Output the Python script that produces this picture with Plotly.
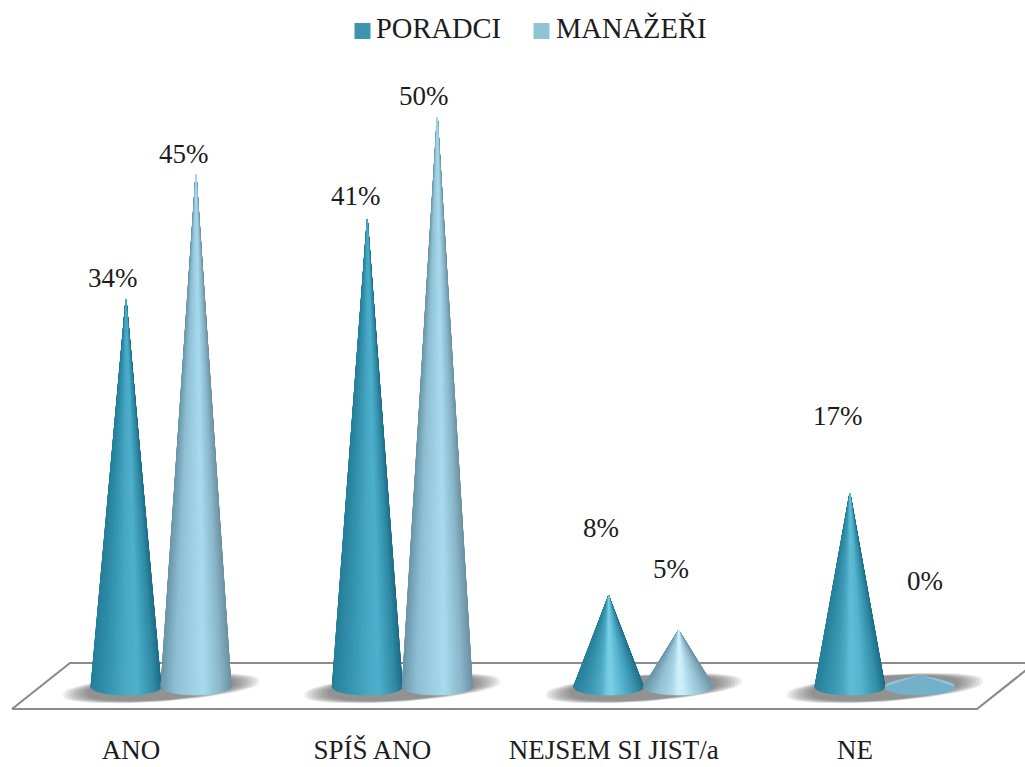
import math
import plotly.graph_objects as go

# Survey answers and the share of each group, in percent
categories = ["ANO", "SPÍŠ ANO", "NEJSEM SI JIST/a", "NE"]
poradci = [34, 41, 8, 17]
manazeri = [45, 50, 5, 0]
series_names = ["PORADCI", "MANAŽEŘI"]

# Label nudges in pixels, (right, up) from each cone's tip
poradci_label_offset = [(-13, 21), (-11, 24), (-8, 68), (-12, 77)]
manazeri_label_offset = [(-12, 20), (-13, 21), (-8, 61), (5, 106)]

WIDTH, HEIGHT = 1025, 767
PX_PER_CAT = 241.3
PX_PER_PCT = 11.4
FIRST_CAT_PX = 161
ZERO_PX = 687
PLOT_BOTTOM_PX = 731

CONE_DX = 35 / PX_PER_CAT
CONE_RX = 35 / PX_PER_CAT
CONE_RY = 8 / PX_PER_PCT
MIN_CONE_RISE = 1.0  # an empty answer still keeps a low stub on the floor
WEDGES = 96

FONT = "Liberation Serif"
TEXT = "#1c1c1c"

DARK_STOPS = [(0, "#27809a"), (0.15, "#2f8ca7"), (0.5, "#48a8c5"), (0.66, "#4fb0cc"), (0.9, "#2f8aa5"), (1, "#1f6e88")]
LIGHT_STOPS = [(0, "#6b97aa"), (0.2, "#8fbfd3"), (0.6, "#a9dcf0"), (0.85, "#8ab6c9"), (1, "#6d93a5")]
DARK_GLOW = "#9ceafc"
LIGHT_GLOW = "#e0fbff"


def to_rgb(hex_color):
    return [int(hex_color[i:i + 2], 16) for i in (1, 3, 5)]


def shade(stops, glow_colour, s, value):
    """Colour across the cone; s runs 0 (left edge) to 1 (right edge)."""
    for (s0, c0), (s1, c1) in zip(stops, stops[1:]):
        if s <= s1:
            t = (s - s0) / (s1 - s0)
            rgb = [a + (b - a) * t for a, b in zip(to_rgb(c0), to_rgb(c1))]
            break
    # Squat cones catch a narrow, stronger highlight down the middle
    strength = (1 - value / 50) ** 3
    glow = strength * (0.65 * math.exp(-((s - 0.52) / 0.09) ** 2) + 0.35 * math.exp(-((s - 0.55) / 0.3) ** 2))
    rgb = [c + (g - c) * glow for c, g in zip(rgb, to_rgb(glow_colour))]
    return "rgb(%d,%d,%d)" % tuple(rgb)


def cone_traces(cx, value, stops, glow_colour):
    tip = max(value, MIN_CONE_RISE)
    wedges = []
    for k in range(WEDGES):
        a0 = 2 * math.pi * k / WEDGES
        a1 = 2 * math.pi * (k + 1) / WEDGES
        mid = (a0 + a1) / 2
        s = (math.cos(mid) + 1) / 2
        wedges.append((math.sin(mid), a0, a1, s))
    # Back of the cone (upper half of the base) first, front last
    wedges.sort(key=lambda w: -w[0])
    traces = []
    for height, a0, a1, s in wedges:
        if value == 0:
            # The stub is nearly flat: one tone for its lit back, one for its front
            color = "#8cc6dc" if height > 0 else "#74b2ca"
        else:
            color = shade(stops, glow_colour, s, value)
        traces.append(go.Scatter(
            x=[cx, cx + CONE_RX * math.cos(a0), cx + CONE_RX * math.cos(a1), cx],
            y=[tip, CONE_RY * math.sin(a0), CONE_RY * math.sin(a1), tip],
            mode="lines", fill="toself", fillcolor=color,
            line=dict(color=color, width=0.7),
            hoverinfo="skip", showlegend=False,
        ))
    return traces


def shadow_traces(center):
    traces = []
    half_w = 98 / PX_PER_CAT
    half_h = 13.5 / PX_PER_PCT
    shear = 0.07 * PX_PER_CAT / PX_PER_PCT
    for layer in range(8):
        scale = 1 - layer * 0.035
        xs, ys = [], []
        for k in range(73):
            t = 2 * math.pi * k / 72
            dx = half_w * scale * math.cos(t)
            bulge = math.copysign(abs(math.sin(t)) ** 0.7, math.sin(t))
            xs.append(center + dx)
            ys.append(-0.1 + half_h * (0.5 + 0.5 * scale) * bulge * (1 - 0.15 * math.cos(t) ** 2) + shear * dx)
        traces.append(go.Scatter(
            x=xs, y=ys, mode="lines", fill="toself",
            fillcolor="rgba(70,70,70,0.1)", line=dict(width=0),
            hoverinfo="skip", showlegend=False,
        ))
    return traces


def px_x(px):
    return (px - FIRST_CAT_PX) / PX_PER_CAT


def px_y(px):
    return (ZERO_PX - px) / PX_PER_PCT


fig = go.Figure()

# Floor panel
fig.add_trace(go.Scatter(
    x=[px_x(12), px_x(70), px_x(1035), px_x(977), px_x(12)],
    y=[px_y(709), px_y(663), px_y(663), px_y(709), px_y(709)],
    mode="lines", line=dict(color="#8b8b8b", width=2.2),
    hoverinfo="skip", showlegend=False,
))

annotations = []
for i in range(len(categories)):
    for tr in shadow_traces(i):
        fig.add_trace(tr)

for i in range(len(categories)):
    groups = [
        (i - CONE_DX, poradci[i], DARK_STOPS, DARK_GLOW, poradci_label_offset[i]),
        (i + CONE_DX, manazeri[i], LIGHT_STOPS, LIGHT_GLOW, manazeri_label_offset[i]),
    ]
    for cx, value, stops, glow_colour, (dx, up) in groups:
        for tr in cone_traces(cx, value, stops, glow_colour):
            fig.add_trace(tr)
        annotations.append(dict(
            x=cx, y=value, text=f"{value}%", showarrow=False,
            xshift=dx, yshift=up, xanchor="center", yanchor="middle",
            font=dict(family=FONT, size=27, color=TEXT),
        ))

# Series key above the plot
key_items = zip(series_names, ["#3e93ad", "#8fc4d6"], [362.5, 541.5], [376, 556])
for name, colour, key_px, text_px in key_items:
    fig.add_trace(go.Scatter(
        x=[px_x(key_px)], y=[px_y(31)], mode="markers",
        marker=dict(symbol="square", size=16, color=colour),
        hoverinfo="skip", showlegend=False,
    ))
    fig.add_trace(go.Scatter(
        x=[px_x(text_px)], y=[px_y(31)], mode="text",
        text=[name], textposition="middle right",
        textfont=dict(family=FONT, size=28.5, color=TEXT),
        hoverinfo="skip", showlegend=False,
    ))

fig.update_layout(
    width=WIDTH, height=HEIGHT,
    margin=dict(l=0, r=0, t=0, b=HEIGHT - PLOT_BOTTOM_PX),
    paper_bgcolor="white", plot_bgcolor="white",
    showlegend=False, annotations=annotations,
    xaxis=dict(
        range=[px_x(0), px_x(WIDTH)], showgrid=False, zeroline=False, showline=False,
        tickmode="array", tickvals=[i - 0.124 for i in range(len(categories))],
        ticktext=categories, ticks="", automargin=False,
        tickfont=dict(family=FONT, size=27, color=TEXT),
    ),
    yaxis=dict(
        range=[px_y(PLOT_BOTTOM_PX), px_y(0)], showgrid=False, zeroline=False,
        showline=False, showticklabels=False, ticks="", automargin=False,
    ),
)

fig.write_html("out.html")
